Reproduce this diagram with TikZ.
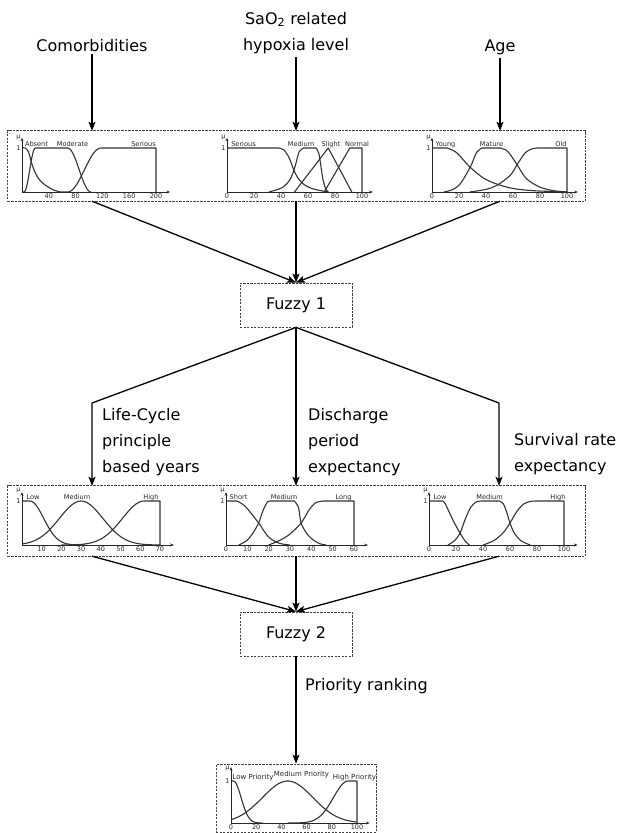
\documentclass[tikz,border=0pt]{standalone}
\usepackage{fontspec}
\setmainfont{DejaVu Sans}
\usetikzlibrary{arrows.meta,fit}
\begin{document}
\begin{tikzpicture}[x=1pt,y=-1pt,
  big/.style={font=\fontsize{16}{26}\selectfont, inner sep=3pt},
  arr/.style={line width=1.3pt, line join=round, -{Stealth[length=9pt,width=7pt,inset=2pt]}},
  dbox/.style={draw=black!75, line width=0.8pt, dash pattern=on 2.2pt off 1.3pt},
  panel/.style={minimum width=#1, minimum height=70pt, inner sep=0pt},
  ax/.style={line width=0.9pt, draw=black!85, -{Stealth[length=3.5pt,width=3pt]}},
  mf/.style={line width=1.1pt, draw=black!80, line join=round},
  tick/.style={font=\fontsize{6.5}{7}\selectfont, text=black!85, inner sep=0pt, anchor=north, yshift=-1.8pt},
  mflab/.style={font=\fontsize{6.6}{7}\selectfont, text=black!85, inner sep=0pt, anchor=base},
  ylab/.style={font=\fontsize{6.5}{7}\selectfont, text=black!85, inner sep=1.2pt, anchor=east}]
\useasboundingbox (0,0) rectangle (618,833);

% ---------- top inputs ----------
\node[big, anchor=base] (c1) at (92,51) {Comorbidities};
\node[big, align=center, anchor=north] (c2) at (296,9) {SaO\textsubscript{2} related\\hypoxia level};
\node[big, anchor=base] (c3) at (500,51) {Age};

% ---------- row 1 panels ----------
\node[panel=168pt] (p11) at (92,166) {};
\node[panel=168pt] (p12) at (296,166) {};
\node[panel=170pt] (p13) at (500,166) {};
\node[dbox, fit=(p11)(p13), inner sep=0pt] (r1) {};

% Comorbidities
\begin{scope}[shift={(22,192)}, xscale=0.67, yscale=-44]
  \draw[ax] (0,0) -- (221,0);
  \draw[ax] (0,0) -- (0,1.23);
  \node[ylab] (u11) at (0,1.25) {μ};
  \node[ylab] (o11) at (0,1) {1};
  \draw[mf] plot[smooth] coordinates {(0,1) (5,1) (10,0.9) (14,0.68) (18,0.5) (24,0.32) (32,0.19) (45,0.06) (57,0)};
  \draw[mf] (0,0) -- plot[domain=3:20,samples=24] (\x,{0.5-0.5*cos(180*(\x-3)/17)}) -- (68,1) -- plot[domain=68:103,samples=24] (\x,{0.5+0.5*cos(180*(\x-68)/35)});
  \draw[mf] (57,0) -- plot[domain=68:118,samples=24] (\x,{0.5-0.5*cos(180*(\x-68)/50)}) -- (200,1) -- (200,0);
  \foreach \v in {40,80,...,200} \node[tick] (k11\v) at (\v,0) {\v};
\end{scope}
\node[mflab] (l111) at (36.5,146) {Absent};
\node[mflab] (l112) at (72.5,146) {Moderate};
\node[mflab] (l113) at (143.5,146) {Serious};

% SaO2
\begin{scope}[shift={(227,192)}, xscale=1.35, yscale=-44]
  \draw[ax] (0,0) -- (108,0);
  \draw[ax] (0,0) -- (0,1.23);
  \node[ylab] (u12) at (0,1.25) {μ};
  \node[ylab] (o12) at (0,1) {1};
  \draw[mf] (0,1) -- plot[smooth] coordinates {(38,1) (42,0.96) (46,0.78) (49.5,0.5) (53,0.3) (58,0.15) (65,0.06) (75,0)};
  \draw[mf] plot[smooth] coordinates {(31,0) (41,0.1) (47,0.3) (50.6,0.6) (53.5,0.92) (57,1)} -- (66,1) -- plot[smooth] coordinates {(66,1) (68,0.88) (69.5,0.6) (71,0.3) (73,0.08) (75,0)};
  \draw[mf] (50,0) -- (75,1) -- (92.5,0);
  \draw[mf] (72,0) -- (91,1) -- (100,1) -- (100,0);
  \foreach \v in {0,20,...,100} \node[tick] (k12\v) at (\v,0) {\v};
\end{scope}
\node[mflab] (l121) at (243.5,146) {Serious};
\node[mflab] (l122) at (301,146) {Medium};
\node[mflab] (l123) at (331,146) {Slight};
\node[mflab] (l124) at (357,146) {Normal};

% Age
\begin{scope}[shift={(432,192)}, xscale=1.35, yscale=-44]
  \draw[ax] (0,0) -- (108,0);
  \draw[ax] (0,0) -- (0,1.23);
  \node[ylab] (u13) at (0,1.25) {μ};
  \node[ylab] (o13) at (0,1) {1};
  \draw[mf] (0,1) -- plot[smooth] coordinates {(11,1) (18,0.9) (28,0.57) (38,0.32) (48,0.18) (60,0.08) (75,0.03) (100,0)};
  \draw[mf] plot[smooth] coordinates {(8.6,0) (15,0.05) (21,0.19) (28.4,0.57) (33,0.9) (37,1)} -- (50.6,1) -- plot[smooth] coordinates {(50.6,1) (55,0.95) (58,0.85) (63,0.62) (70,0.3) (80,0.11) (90,0.03) (100,0)};
  \draw[mf] plot[smooth] coordinates {(28,0) (40,0.06) (48,0.15) (58,0.38) (63,0.62) (69,0.89) (74,0.98) (78,1)} -- (100,1) -- (100,0);
  \foreach \v in {0,20,...,100} \node[tick] (k13\v) at (\v,0) {\v};
\end{scope}
\node[mflab] (l131) at (445.5,146) {Young};
\node[mflab] (l132) at (491.5,146) {Mature};
\node[mflab] (l133) at (561,146) {Old};

% ---------- Fuzzy 1 ----------
\node[dbox, big, minimum width=112pt, minimum height=44pt] (f1) at (296,305) {Fuzzy 1};

\draw[arr] (c1) -- (p11);
\draw[arr] (c2) -- (p12);
\draw[arr] (c3) -- (p13);
\draw[arr] (p11.south) -- (f1.north);
\draw[arr] (p12.south) -- (f1.north);
\draw[arr] (p13.south) -- (f1.north);

% ---------- row 2 ----------
\node[panel=168pt] (p21) at (92,521) {};
\node[panel=168pt] (p22) at (296,521) {};
\node[panel=172pt] (p23) at (499,521) {};
\node[dbox, fit=(p21)(p23), inner sep=0pt] (r2) {};

\coordinate (b1) at (92,403);
\coordinate (b3) at (499,403);
\draw[arr] (f1.south) -- (b1) -- (p21.north);
\draw[arr] (f1.south) -- (p22.north);
\draw[arr] (f1.south) -- (b3) -- (p23.north);

\node[big, align=left, anchor=north west] (t1) at (99,405) {Life-Cycle\\principle\\based years};
\node[big, align=left, anchor=north west] (t2) at (305,405) {Discharge\\period\\expectancy};
\node[big, align=left, anchor=north west] (t3) at (511,430) {Survival rate\\expectancy};

% Life-cycle years
\begin{scope}[shift={(22,545)}, xscale=1.971, yscale=-44]
  \draw[ax] (0,0) -- (77,0);
  \draw[ax] (0,0) -- (0,1.2);
  \node[ylab] (u21) at (0,1.23) {μ};
  \node[ylab] (o21) at (0,1) {1};
  \draw[mf] (0,1) -- (4,1) -- plot[domain=4:32,samples=30] (\x,{exp(-(\x-4)*(\x-4)/98)});
  \draw[mf] plot[domain=0:70,samples=60] (\x,{exp(-(\x-30)*(\x-30)/242)});
  \draw[mf] plot[domain=20:62,samples=40] (\x,{exp(-(\x-62)*(\x-62)/242)}) -- (70,1) -- (70,0);
  \foreach \v in {10,20,...,70} \node[tick] (k21\v) at (\v,0) {\v};
\end{scope}
\node[mflab] (l211) at (33,499) {Low};
\node[mflab] (l212) at (77,499) {Medium};
\node[mflab] (l213) at (151,499) {High};

% Discharge
\begin{scope}[shift={(226,545)}, xscale=2.133, yscale=-44]
  \draw[ax] (0,0) -- (66.5,0);
  \draw[ax] (0,0) -- (0,1.2);
  \node[ylab] (u22) at (0,1.23) {μ};
  \node[ylab] (o22) at (0,1) {1};
  \draw[mf] (0,1) -- plot[smooth] coordinates {(5,1) (9,0.88) (15.3,0.5) (20,0.18) (25,0.04) (30,0)};
  \draw[mf] plot[smooth] coordinates {(6,0) (10,0.11) (13,0.3) (15.3,0.5) (17.5,0.8) (19.5,0.98) (21,1)} -- (32,1) -- plot[smooth] coordinates {(32,1) (34,0.85) (35.2,0.5) (38,0.25) (41,0.11) (44,0.03) (47,0)};
  \draw[mf] plot[smooth] coordinates {(20,0) (25.4,0.11) (30,0.25) (35.2,0.5) (39,0.8) (42,0.96) (45.6,1)} -- (60,1) -- (60,0);
  \foreach \v in {0,10,...,60} \node[tick] (k22\v) at (\v,0) {\v};
\end{scope}
\node[mflab] (l221) at (238.5,499) {Short};
\node[mflab] (l222) at (284,499) {Medium};
\node[mflab] (l223) at (343.5,499) {Long};

% Survival
\begin{scope}[shift={(429,545)}, xscale=1.35, yscale=-44]
  \draw[ax] (0,0) -- (110,0);
  \draw[ax] (0,0) -- (0,1.2);
  \node[ylab] (u23) at (0,1.23) {μ};
  \node[ylab] (o23) at (0,1) {1};
  \draw[mf] (0,1) -- plot[smooth] coordinates {(10,1) (12,0.94) (18,0.55) (23,0.27) (27,0.08) (30,0)};
  \draw[mf] plot[smooth] coordinates {(14,0) (19,0.1) (23,0.27) (27,0.6) (31,0.86) (35,0.98) (39,1)} -- (52,1) -- plot[smooth] coordinates {(52,1) (55,0.94) (57.5,0.75) (60,0.5) (63,0.28) (68,0.1) (75,0)};
  \draw[mf] plot[smooth] coordinates {(40,0) (48,0.1) (55,0.28) (60,0.5) (65,0.76) (70,0.93) (75,0.99) (80,1)} -- (100,1) -- (100,0);
  \foreach \v in {0,20,...,100} \node[tick] (k23\v) at (\v,0) {\v};
\end{scope}
\node[mflab] (l231) at (440,499) {Low};
\node[mflab] (l232) at (489.5,499) {Medium};
\node[mflab] (l233) at (558,499) {High};

% ---------- Fuzzy 2 ----------
\node[dbox, big, minimum width=112pt, minimum height=44pt] (f2) at (296,634) {Fuzzy 2};
\draw[arr] (p21.south) -- (f2.north);
\draw[arr] (p22.south) -- (f2.north);
\draw[arr] (p23.south) -- (f2.north);

\node[big, anchor=base west] (t4) at (302,690) {Priority ranking};

% ---------- final panel ----------
\node[dbox, minimum width=160pt, minimum height=68pt, inner sep=0pt] (p3) at (296,798) {};
\draw[arr] (f2) -- (p3);
\begin{scope}[shift={(231,823)}, xscale=1.26, yscale=-42]
  \draw[ax] (0,0) -- (110,0);
  \draw[ax] (0,0) -- (0,1.33);
  \node[ylab] (u3) at (0,1.3) {μ};
  \node[ylab] (o3) at (0,1) {1};
  \draw[mf] (0,1) -- (2,1) -- plot[domain=2:25,samples=30] (\x,{exp(-(\x-2)*(\x-2)/72)});
  \draw[mf] plot[domain=0:100,samples=60] (\x,{exp(-(\x-45)*(\x-45)/800)});
  \draw[mf] plot[domain=45:93,samples=40] (\x,{exp(-(\x-93)*(\x-93)/274)}) -- (100,1) -- (100,0);
  \foreach \v in {0,20,...,100} \node[tick] (k3\v) at (\v,0) {\v};
\end{scope}
\node[mflab, font=\fontsize{7}{8}\selectfont] (l31) at (253,779) {Low Priority};
\node[mflab, font=\fontsize{7}{8}\selectfont] (l32) at (301.5,776.5) {Medium Priority};
\node[mflab, font=\fontsize{7}{8}\selectfont] (l33) at (354.5,779) {High Priority};
\end{tikzpicture}
\end{document}
